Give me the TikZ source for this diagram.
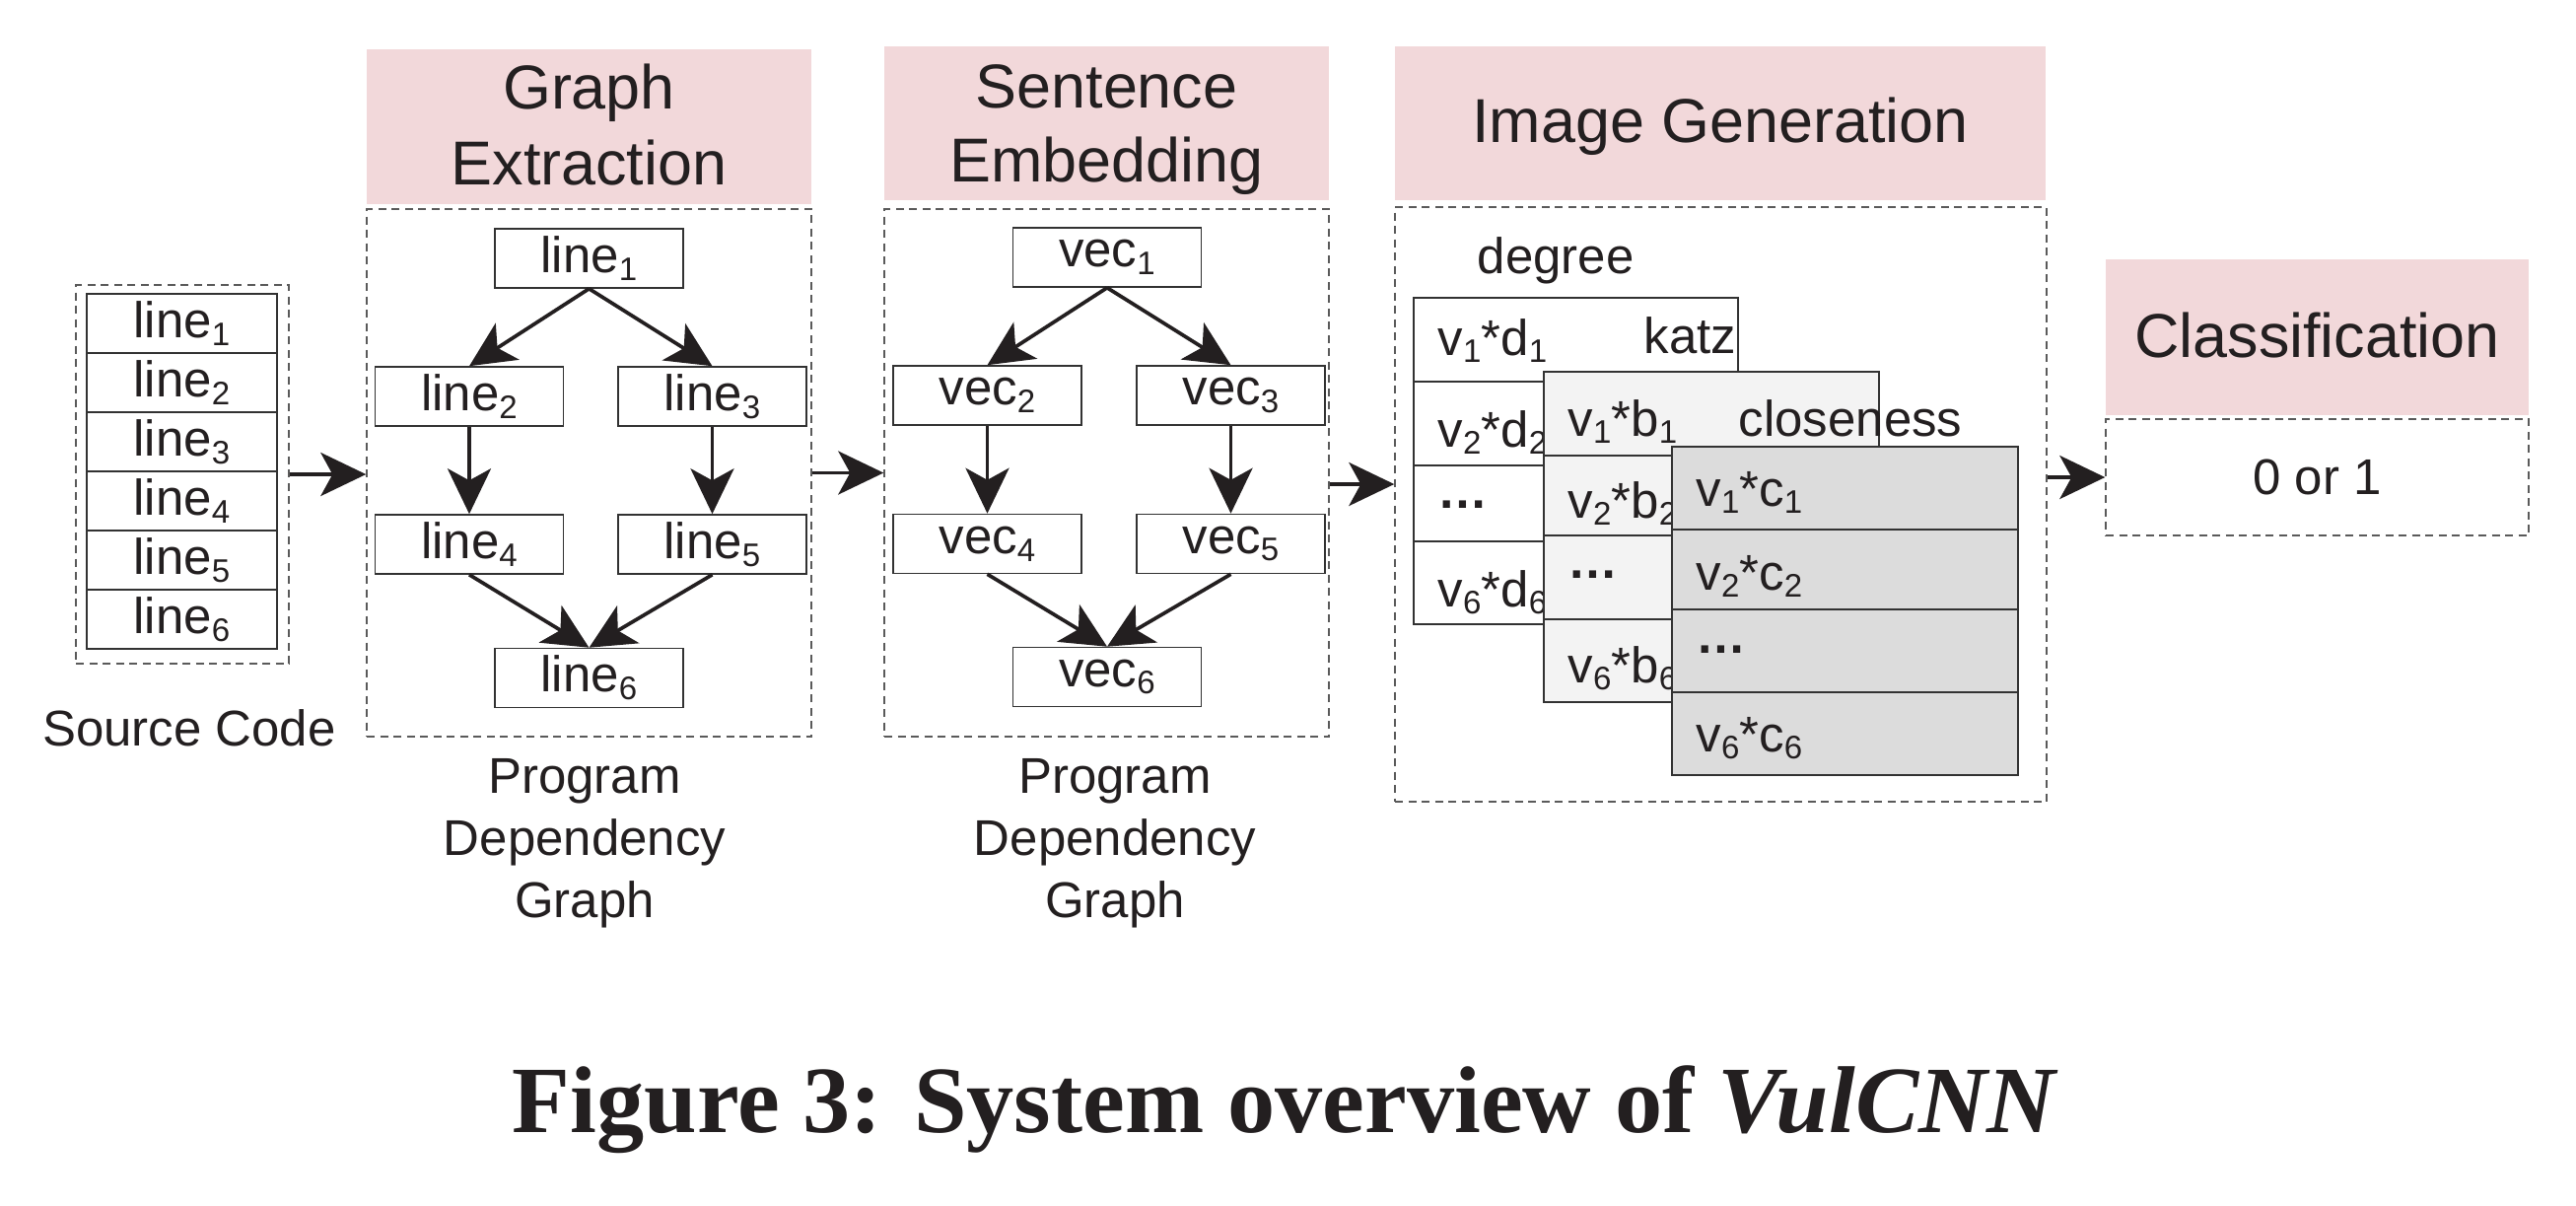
\documentclass[tikz,border=0pt]{standalone}
\usepackage{fontspec}
\setmainfont{Liberation Sans}
\newfontfamily\capfont{Liberation Serif}
\usetikzlibrary{arrows.meta}
\definecolor{pinkhd}{RGB}{242,216,218}
\definecolor{txt}{RGB}{35,31,32}
\definecolor{bord}{RGB}{50,50,50}
\definecolor{dashc}{RGB}{90,90,90}
\definecolor{katzfill}{RGB}{243,243,243}
\definecolor{closefill}{RGB}{220,220,220}
\newcommand\sbs[1]{\raisebox{-0.15em}{\fontsize{9.4pt}{10pt}\selectfont #1}}
\newcommand\bodyfont{\fontsize{14.5pt}{17.9pt}\selectfont}
\newcommand\headfont{\fontsize{17.9pt}{21.9pt}\selectfont}
\newcommand\dotsx{{\bfseries …}}
\begin{document}
\begin{tikzpicture}[x=0.1mm,y=-0.1mm,
  every node/.style={text=txt},
  hdr/.style={fill=pinkhd, draw=none, inner sep=0pt},
  htxt/.style={font=\headfont, inner sep=0pt, anchor=base},
  dbox/.style={draw=dashc, line width=0.4pt, dash pattern=on 0.8mm off 0.55mm, inner sep=0pt},
  gnode/.style={draw=bord, line width=0.45pt, fill=white, inner sep=0pt, minimum width=19.1mm, minimum height=6mm, font=\bodyfont},
  srow/.style={draw=bord, line width=0.45pt, fill=white, inner sep=0pt, minimum width=19.3mm, minimum height=6mm, font=\bodyfont},
  lbl/.style={font=\bodyfont, inner sep=0pt},
  cell/.style={draw=bord, line width=0.45pt, inner sep=0pt},
  arr/.style={draw=txt, line width=1.05pt, -{Stealth[length=4.6mm,width=4.4mm,inset=1.2mm]}},
]
\useasboundingbox (0,0) rectangle (2613,1222);

% ---------- Source code ----------
\node[dbox, minimum width=21.6mm, minimum height=38.4mm] (sc) at (185,481) {};
\node[srow] (s1) at (184.5,328) {line\sbs{1}};
\node[srow] (s2) at (184.5,388) {line\sbs{2}};
\node[srow] (s3) at (184.5,448) {line\sbs{3}};
\node[srow] (s4) at (184.5,508) {line\sbs{4}};
\node[srow] (s5) at (184.5,568) {line\sbs{5}};
\node[srow] (s6) at (184.5,628) {line\sbs{6}};
\node[lbl] (sclbl) at (192,738) {Source Code};

% ---------- Graph extraction ----------
\node[hdr, minimum width=45.1mm, minimum height=15.7mm] (geh) at (597.5,128.5) {};
\node[htxt] (geh1) at (597.5,110) {Graph};
\node[htxt] (geh2) at (597.5,187) {Extraction};
\node[dbox, minimum width=45.1mm, minimum height=53.5mm] (ge) at (597.5,479.5) {};
\node[gnode] (l1) at (597.5,262) {line\sbs{1}};
\node[gnode] (l2) at (476,402) {line\sbs{2}};
\node[gnode] (l3) at (722.5,402) {line\sbs{3}};
\node[gnode] (l4) at (476,552) {line\sbs{4}};
\node[gnode] (l5) at (722.5,552) {line\sbs{5}};
\node[gnode] (l6) at (597.5,687.5) {line\sbs{6}};
\draw[arr] (l1.south) -- (l2.north);
\draw[arr] (l1.south) -- (l3.north);
\draw[arr] (l2.south) -- (l4.north);
\draw[arr] (l3.south) -- (l5.north);
\draw[arr] (l4.south) -- (l6.north);
\draw[arr] (l5.south) -- (l6.north);
\node[lbl, align=center] (gelbl) at (593,855) {Program\\Dependency\\Graph};

% ---------- Sentence embedding ----------
\node[hdr, minimum width=45.1mm, minimum height=15.6mm] (seh) at (1122.5,125) {};
\node[htxt] (seh1) at (1122.5,109) {Sentence};
\node[htxt] (seh2) at (1122.5,184) {Embedding};
\node[dbox, minimum width=45.1mm, minimum height=53.5mm] (se) at (1122.5,479.5) {};
\node[gnode] (v1) at (1123,261) {vec\sbs{1}};
\node[gnode] (v2) at (1001.5,401) {vec\sbs{2}};
\node[gnode] (v3) at (1248.5,401) {vec\sbs{3}};
\node[gnode] (v4) at (1001.5,551.5) {vec\sbs{4}};
\node[gnode] (v5) at (1248.5,551.5) {vec\sbs{5}};
\node[gnode] (v6) at (1123,686.5) {vec\sbs{6}};
\draw[arr] (v1.south) -- (v2.north);
\draw[arr] (v1.south) -- (v3.north);
\draw[arr] (v2.south) -- (v4.north);
\draw[arr] (v3.south) -- (v5.north);
\draw[arr] (v4.south) -- (v6.north);
\draw[arr] (v5.south) -- (v6.north);
\node[lbl, align=center] (selbl) at (1131,855) {Program\\Dependency\\Graph};

% ---------- Image generation ----------
\node[hdr, minimum width=66mm, minimum height=15.6mm] (igh) at (1745,125) {};
\node[htxt] (igh1) at (1745,144) {Image Generation};
\node[dbox, minimum width=66.1mm, minimum height=60.3mm] (ig) at (1745.5,511.5) {};
\node[lbl, anchor=base west] (deglbl) at (1498,277) {degree};
% degree stack
\node[cell, fill=white, minimum width=32.9mm, minimum height=8.5mm] (d1) at (1598.5,344.5) {};
\node[cell, fill=white, minimum width=32.9mm, minimum height=8.5mm] (d2) at (1598.5,429.5) {};
\node[cell, fill=white, minimum width=32.9mm, minimum height=7.7mm] (d3) at (1598.5,510.5) {};
\node[cell, fill=white, minimum width=32.9mm, minimum height=8.4mm] (d4) at (1598.5,591) {};
\node[lbl, anchor=base west] (dt1) at (1458,360) {v\sbs{1}*d\sbs{1}};
\node[lbl, anchor=base west] (dt2) at (1458,453) {v\sbs{2}*d\sbs{2}};
\node[lbl, anchor=base west] (dt3) at (1458,515) {\dotsx};
\node[lbl, anchor=base west] (dt4) at (1458,615) {v\sbs{6}*d\sbs{6}};
\node[lbl, anchor=base east] (katzlbl) at (1762,358) {katz};
% katz stack
\node[cell, fill=katzfill, minimum width=34mm, minimum height=8.5mm] (k1) at (1736,419.5) {};
\node[cell, fill=katzfill, minimum width=34mm, minimum height=8.1mm] (k2) at (1736,502.5) {};
\node[cell, fill=katzfill, minimum width=34mm, minimum height=8.5mm] (k3) at (1736,585.5) {};
\node[cell, fill=katzfill, minimum width=34mm, minimum height=8.4mm] (k4) at (1736,670) {};
\node[lbl, anchor=base west] (kt1) at (1590,442) {v\sbs{1}*b\sbs{1}};
\node[lbl, anchor=base west] (kt2) at (1590,525) {v\sbs{2}*b\sbs{2}};
\node[lbl, anchor=base west] (kt3) at (1590,586) {\dotsx};
\node[lbl, anchor=base west] (kt4) at (1590,692) {v\sbs{6}*b\sbs{6}};
\node[lbl, anchor=base west] (closelbl) at (1763,442) {closeness};
% closeness stack
\node[cell, fill=closefill, minimum width=35.1mm, minimum height=8.4mm] (c1) at (1871.5,495) {};
\node[cell, fill=closefill, minimum width=35.1mm, minimum height=8.1mm] (c2) at (1871.5,577.5) {};
\node[cell, fill=closefill, minimum width=35.1mm, minimum height=8.4mm] (c3) at (1871.5,660) {};
\node[cell, fill=closefill, minimum width=35.1mm, minimum height=8.4mm] (c4) at (1871.5,744) {};
\node[lbl, anchor=base west] (ct1) at (1720,513) {v\sbs{1}*c\sbs{1}};
\node[lbl, anchor=base west] (ct2) at (1720,598) {v\sbs{2}*c\sbs{2}};
\node[lbl, anchor=base west] (ct3) at (1720,662) {\dotsx};
\node[lbl, anchor=base west] (ct4) at (1720,762) {v\sbs{6}*c\sbs{6}};

% ---------- Classification ----------
\node[hdr, minimum width=42.9mm, minimum height=15.8mm] (clh) at (2350.5,342) {};
\node[htxt] (clh1) at (2350.5,362) {Classification};
\node[dbox, minimum width=42.9mm, minimum height=11.8mm, font=\bodyfont] (cl) at (2350.5,484) {0 or 1};

% ---------- stage arrows ----------
\coordinate (y3) at (0,491);
\draw[arr] (sc.east) -- (sc.east -| ge.west);
\draw[arr] (ge.east) -- (se.west);
\draw[arr] (se.east |- y3) -- (ig.west |- y3);
\draw[arr] (ig.east |- cl.west) -- (cl.west);

% ---------- caption ----------
\node[font=\capfont\bfseries\fontsize{27.4pt}{30pt}\selectfont, anchor=base, inner sep=0pt] (cap) at (1304,1148) {Figure 3: System overview of \textit{VulCNN}};
\end{tikzpicture}
\end{document}
